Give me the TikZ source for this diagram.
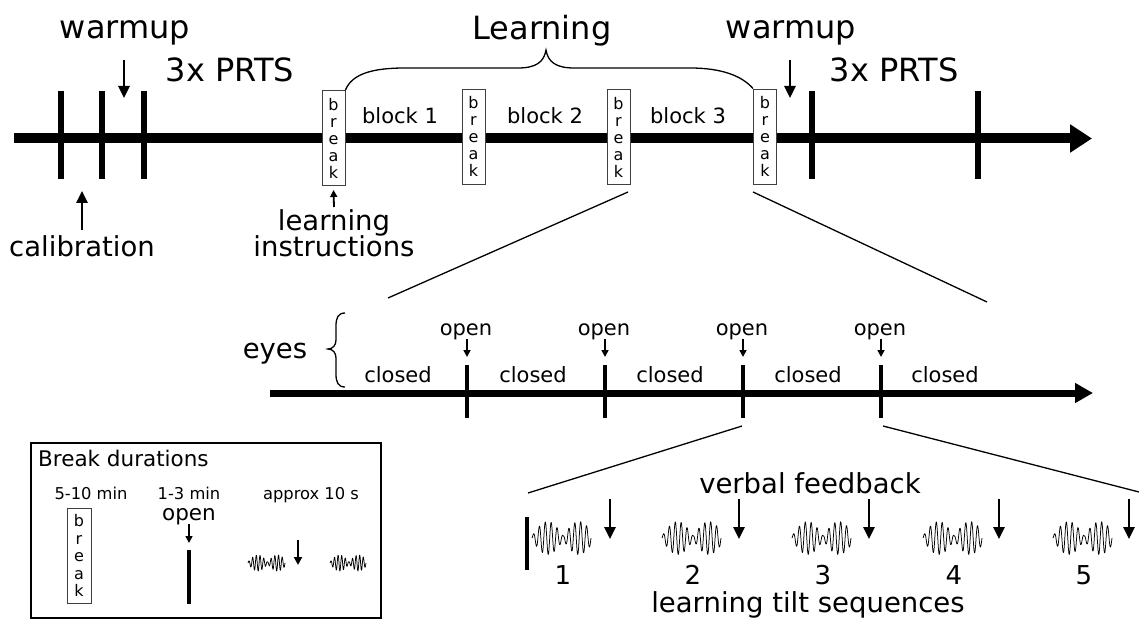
\documentclass[tikz,border=0pt]{standalone}
\usepackage{fontspec}
\setmainfont{DejaVu Sans}
\usetikzlibrary{arrows.meta}
\newcommand\wavelet[4]{% x0, yc, width, amplitude
  \draw[wave] plot[domain=0:1, samples=241] ({#1+#3*\x}, {#2-#4*(0.12+0.88*abs(sin(340*\x)))*sin(3600*\x)});}
\begin{document}
\begin{tikzpicture}[x=1pt,y=-1pt,
  lbl/.style={inner sep=0pt, anchor=base},
  fbig/.style={font=\fontsize{32}{38}\selectfont},
  flab/.style={font=\fontsize{27.5}{32}\selectfont},
  fmid/.style={font=\fontsize{21}{25}\selectfont},
  fsm/.style={font=\fontsize{16.3}{19}\selectfont},
  brk/.style={draw=black!75, line width=0.9pt, fill=white, minimum width=23pt, minimum height=95pt, inner sep=0pt, align=center, font=\fontsize{16}{17}\selectfont},
  bigarrow/.style={line width=2.6pt, -{Triangle[length=12pt,width=11pt]}},
  smallarrow/.style={line width=1.6pt, -{Triangle[length=7pt,width=7pt]}},
  tickmark/.style={line width=6pt},
  tickthin/.style={line width=4pt},
  thinline/.style={line width=1.3pt},
  wave/.style={line width=0.75pt, line join=round},
]
\useasboundingbox (0,0) rectangle (1139,620);

% ---------- top timeline ----------
\coordinate (t0) at (14,138.5);
\coordinate (t1) at (1092,138.5);
\draw[line width=10pt, -{Triangle[length=22pt,width=27pt]}] (t0) -- (t1);
\foreach \xx in {61,102,144,812,978} \draw[tickmark] (\xx,91) -- (\xx,179);

\node[lbl,fbig] (wu1) at (125,39) {warmup};
\node[lbl,fbig] (prts1) at (230,82) {3x PRTS};
\node[lbl,fbig] (wu2) at (791,39) {warmup};
\node[lbl,fbig] (prts2) at (894,82) {3x PRTS};
\node[lbl,fbig] (learn) at (542,40) {Learning};
\coordinate (wa1) at (124,60); \coordinate (wb1) at (124,98);
\draw[bigarrow] (wa1) -- (wb1);
\coordinate (wa2) at (790,60); \coordinate (wb2) at (790,98);
\draw[bigarrow] (wa2) -- (wb2);

\node[lbl,flab] (calib) at (82,256) {calibration};
\coordinate (ca) at (82,230); \coordinate (cb) at (82,191);
\draw[bigarrow] (ca) -- (cb);

\node[brk] (b1) at (333.5,138) {b\\r\\e\\a\\k};
\node[brk] (b2) at (473.5,136.5) {b\\r\\e\\a\\k};
\node[brk] (b3) at (618.5,137) {b\\r\\e\\a\\k};
\node[brk] (b4) at (765,136.5) {b\\r\\e\\a\\k};

\node[lbl,fmid] (bl1) at (400,124) {block 1};
\node[lbl,fmid] (bl2) at (545,124) {block 2};
\node[lbl,fmid] (bl3) at (688,124) {block 3};

\node[lbl,flab] (li1) at (334,230) {learning};
\node[lbl,flab] (li2) at (334,256) {instructions};
\coordinate (lia) at (334,207);
\draw[smallarrow, line width=1.8pt] (lia) -- (b1.south |- 0,190);

% Learning brace
\coordinate (lt) at (546,50);
\draw[thinline] (b1.north east) .. controls (352,74) and (372,68) .. (405,68)
  -- (518,68) .. controls (536,68) and (544,62) .. (lt)
  .. controls (548,62) and (556,68) .. (574,68)
  -- (690,68) .. controls (722,68) and (742,76) .. (b4.north west);

% zoom lines
\coordinate (z1a) at (628,192); \coordinate (z1b) at (388,298);
\coordinate (z2a) at (753,192); \coordinate (z2b) at (987,302);
\draw[thinline] (z1a) -- (z1b);
\draw[thinline] (z2a) -- (z2b);

% ---------- middle timeline ----------
\coordinate (m0) at (270,393);
\coordinate (m1) at (1093,393);
\draw[line width=7pt, -{Triangle[length=18pt,width=19pt]}] (m0) -- (m1);
\foreach \xx [count=\i] in {467,605,743,881} {
  \draw[tickthin] (\xx,365) -- (\xx,418);
  \node[lbl,fmid] (op\i) at (\xx-1,335) {open};
  \coordinate (oa\i) at (\xx,339);
  \coordinate (ob\i) at (\xx,357);
  \draw[smallarrow] (oa\i) -- (ob\i);
}
\foreach \xx [count=\i] in {398,533,670,808,945} \node[lbl,fmid] (cl\i) at (\xx,382) {closed};
\node[lbl,flab] (eyes) at (275,358) {eyes};
\draw[thinline] (345,313) .. controls (338,313) and (336,318) .. (336,326)
  -- (336,340) .. controls (336,345) and (333,349) .. (328,349)
  .. controls (333,349) and (336,353) .. (336,358)
  -- (336,374) .. controls (336,382) and (338,387) .. (345,387);

\coordinate (z3a) at (742,426); \coordinate (z3b) at (528,493);
\coordinate (z4a) at (883,426); \coordinate (z4b) at (1139,492);
\draw[thinline] (z3a) -- (z3b);
\draw[thinline] (z4a) -- (z4b);

% ---------- bottom ----------
\node[lbl,flab] (vf) at (810,493) {verbal feedback};
\node[lbl,flab] (lts) at (808,612) {learning tilt sequences};
\draw[tickthin] (527,517) -- (527,570);
\foreach \xx [count=\i] in {532,662,792,923,1053} {
  \wavelet{\xx}{538}{59}{16.5}
  \node[lbl,font=\fontsize{26}{30}\selectfont] (n\i) at (\xx+31,584) {\i};
}
\foreach \xx [count=\i] in {610,739,869,999,1129} {
  \coordinate (va\i) at (\xx,499);
  \coordinate (vb\i) at (\xx,539);
  \draw[bigarrow] (va\i) -- (vb\i);
}

% ---------- legend ----------
\node[draw, line width=1.5pt, minimum width=350pt, minimum height=175pt, inner sep=0pt] (legend) at (206,530.5) {};
\node[lbl,anchor=base west,font=\fontsize{21.5}{25}\selectfont] (bd) at (38,466) {Break durations};
\node[lbl,fsm] (d1) at (91,499) {5-10 min};
\node[lbl,fsm] (d2) at (189,499) {1-3 min};
\node[lbl,fsm] (d3) at (311,499) {approx 10 s};
\node[brk, minimum width=24pt, font=\fontsize{16}{17.5}\selectfont] (lb) at (79,555.5) {b\\r\\e\\a\\k};
\node[lbl,font=\fontsize{21.5}{25}\selectfont] (lop) at (189,520) {open};
\coordinate (loa) at (189,524); \coordinate (lob) at (189,543);
\draw[smallarrow] (loa) -- (lob);
\draw[tickthin] (189,550) -- (189,604);
\wavelet{248}{563}{37}{8}
\wavelet{330}{563}{36}{8}
\coordinate (laa) at (298,540); \coordinate (lab) at (298,565);
\draw[line width=2pt, -{Triangle[length=8pt,width=8pt]}] (laa) -- (lab);
\end{tikzpicture}
\end{document}
